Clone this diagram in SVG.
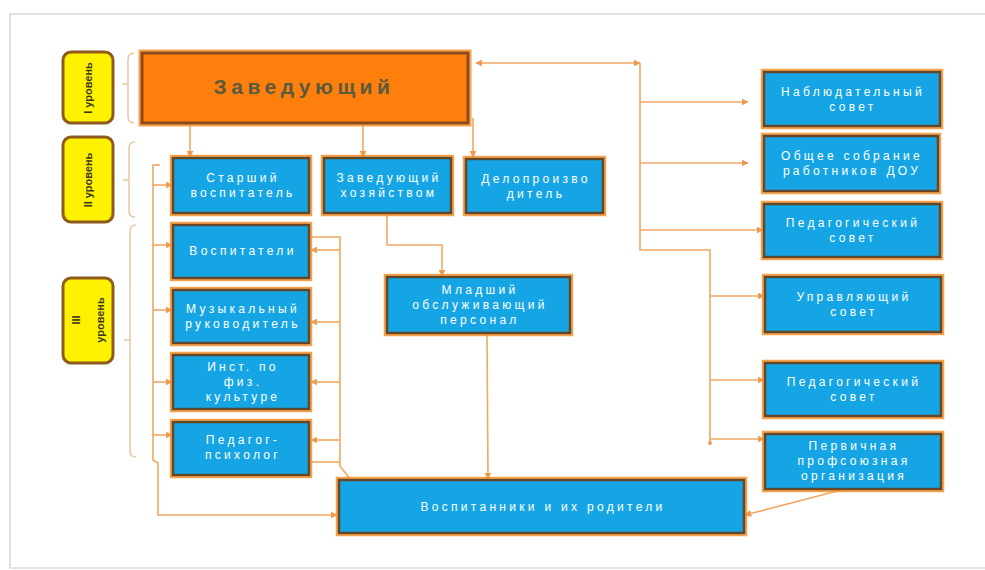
<svg xmlns="http://www.w3.org/2000/svg" width="985" height="570" viewBox="0 0 985 570">
<style>
.frame{fill:#ffffff;stroke:#d9d9d9;stroke-width:1.5}
.box{fill:#12A5E4;stroke:#64472A;stroke-width:2.5}
.head{fill:#FF7F0F;stroke:#8A4A1C;stroke-width:3}
.lvl{fill:#FFF200;stroke:#8E5A1E;stroke-width:3}
.brace{fill:none;stroke:#E6C9A2;stroke-width:1.5}
.con{fill:none;stroke:#F0A863;stroke-width:1.6}
.t{font-family:"Liberation Sans",Arial,sans-serif;font-size:12px;fill:#ffffff;letter-spacing:3.3px;text-anchor:middle;dominant-baseline:central}
.th{font-family:"Liberation Sans",Arial,sans-serif;font-size:21px;font-weight:bold;fill:#5A5A3C;letter-spacing:4.5px;text-anchor:middle;dominant-baseline:central}
.tl{font-family:"Liberation Sans",Arial,sans-serif;font-size:11px;font-weight:bold;fill:#3A3A1A;text-anchor:middle;dominant-baseline:central}
</style>
<defs>
<filter id="glow" x="-10%" y="-10%" width="120%" height="130%">
<feMorphology in="SourceAlpha" operator="dilate" radius="2" result="d"/>
<feFlood flood-color="#F5922F" flood-opacity="0.85"/>
<feComposite in2="d" operator="in" result="o"/>
<feMerge><feMergeNode in="o"/><feMergeNode in="SourceGraphic"/></feMerge>
</filter>
<marker id="arr" viewBox="0 0 10 10" refX="9" refY="5" markerWidth="7" markerHeight="7" markerUnits="userSpaceOnUse" orient="auto-start-reverse">
<path d="M0,0 L10,5 L0,10 z" fill="#EE9A4E"/>
</marker>
</defs>
<rect class="frame" x="10" y="14" width="990" height="554"/>

<g id="levels">
<g id="level1">
<rect class="lvl" x="63" y="52" width="50" height="71" rx="8"/>
<text class="tl" transform="translate(88,88) rotate(-90)">I уровень</text>
<path class="brace" d="M134,53 Q128,53 128,60 L128,84 L122,84 M128,84 L128,116 Q128,123 134,123"/>
</g>
<g id="level2">
<rect class="lvl" x="63" y="137" width="50" height="85" rx="8"/>
<text class="tl" transform="translate(88,180) rotate(-90)">II уровень</text>
<path class="brace" d="M135,142 Q129,142 129,148 L129,180 L123,180 M129,180 L129,211 Q129,217 135,217"/>
</g>
<g id="level3">
<rect class="lvl" x="63" y="278" width="50" height="85" rx="8"/>
<text class="tl" transform="translate(76,320) rotate(-90)">III</text>
<text class="tl" transform="translate(100,320) rotate(-90)">уровень</text>
<path class="brace" d="M136,225 Q130,225 130,231 L130,340 L124,340 M130,340 L130,451 Q130,457 136,457"/>
</g>
</g>

<g id="connectors">
<path class="con" d="M190,123 L190,157" marker-end="url(#arr)"/>
<path class="con" d="M363,123 L363,157" marker-end="url(#arr)"/>
<path class="con" d="M473,118 L473,157" marker-end="url(#arr)"/>
<path class="con" d="M476,63 L640,63" marker-start="url(#arr)" marker-end="url(#arr)"/>
<path class="con" d="M640,63 L640,250 L710,250 L710,443"/>
<path class="con" d="M640,102 L748,102" marker-end="url(#arr)"/>
<path class="con" d="M640,163 L748,163" marker-end="url(#arr)"/>
<path class="con" d="M640,230 L763,230" marker-end="url(#arr)"/>
<path class="con" d="M710,296 L764,296" marker-end="url(#arr)"/>
<path class="con" d="M710,380 L764,380" marker-end="url(#arr)"/>
<path class="con" d="M710,439 L764,439" marker-end="url(#arr)"/>
<circle cx="710" cy="443" r="2" fill="#EE9A4E"/>
<path class="con" d="M845,489 L745,515" marker-end="url(#arr)"/>
<path class="con" d="M387,213 L387,245 L442,245 L442,276" marker-end="url(#arr)"/>
<path class="con" d="M487,333 L488,479" marker-end="url(#arr)"/>
<path class="con" d="M160,165 L153,165 L153,460 L158,463 L158,515 L337,515" marker-end="url(#arr)"/>
<path class="con" d="M153,185 L172,185" marker-end="url(#arr)"/>
<path class="con" d="M153,245 L172,245" marker-end="url(#arr)"/>
<path class="con" d="M153,310 L172,310" marker-end="url(#arr)"/>
<path class="con" d="M153,382 L172,382" marker-end="url(#arr)"/>
<path class="con" d="M153,435 L172,435" marker-end="url(#arr)"/>
<path class="con" d="M310,237 L340,237 L340,466 L350,479"/>
<path class="con" d="M310,462 L340,462"/>
<path class="con" d="M340,250 L311,250" marker-end="url(#arr)"/>
<path class="con" d="M340,322 L311,322" marker-end="url(#arr)"/>
<path class="con" d="M340,382 L311,382" marker-end="url(#arr)"/>
<path class="con" d="M340,440 L311,440" marker-end="url(#arr)"/>
</g>

<g id="n-zaveduyushchiy">
<rect class="head" x="142" y="53" width="326" height="70" filter="url(#glow)"/>
<text class="th" x="304" y="86">Заведующий</text>
</g>
<g id="n-starshiy">
<rect class="box" x="173" y="158" width="136" height="55" filter="url(#glow)"/>
<text class="t" x="243" y="178">Старший</text>
<text class="t" x="243" y="193">воспитатель</text>
</g>
<g id="n-zavhoz">
<rect class="box" x="324" y="158" width="127" height="55" filter="url(#glow)"/>
<text class="t" x="389" y="178">Заведующий</text>
<text class="t" x="389" y="193">хозяйством</text>
</g>
<g id="n-deloproizvoditel">
<rect class="box" x="466" y="159" width="137" height="54" filter="url(#glow)"/>
<text class="t" x="536" y="179">Делопроизво</text>
<text class="t" x="536" y="194">дитель</text>
</g>
<g id="n-vospitateli">
<rect class="box" x="173" y="225" width="136" height="53" filter="url(#glow)"/>
<text class="t" x="243" y="251">Воспитатели</text>
</g>
<g id="n-muz">
<rect class="box" x="173" y="290" width="136" height="53" filter="url(#glow)"/>
<text class="t" x="243" y="309">Музыкальный</text>
<text class="t" x="243" y="324">руководитель</text>
</g>
<g id="n-fiz">
<rect class="box" x="173" y="355" width="136" height="54" filter="url(#glow)"/>
<text class="t" x="243" y="367">Инст. по</text>
<text class="t" x="243" y="382">физ.</text>
<text class="t" x="243" y="397">культуре</text>
</g>
<g id="n-psiholog">
<rect class="box" x="173" y="422" width="136" height="53" filter="url(#glow)"/>
<text class="t" x="243" y="440">Педагог-</text>
<text class="t" x="243" y="455">психолог</text>
</g>
<g id="n-mop">
<rect class="box" x="387" y="277" width="183" height="56" filter="url(#glow)"/>
<text class="t" x="480" y="290">Младший</text>
<text class="t" x="480" y="305">обслуживающий</text>
<text class="t" x="480" y="320">персонал</text>
</g>
<g id="n-vospitanniki">
<rect class="box" x="339" y="480" width="405" height="53" filter="url(#glow)"/>
<text class="t" x="543" y="507">Воспитанники и их родители</text>
</g>
<g id="n-nabl">
<rect class="box" x="764" y="72" width="176" height="54" filter="url(#glow)"/>
<text class="t" x="853" y="92">Наблюдательный</text>
<text class="t" x="853" y="107">совет</text>
</g>
<g id="n-obshchee">
<rect class="box" x="764" y="136" width="174" height="55" filter="url(#glow)"/>
<text class="t" x="852" y="156">Общее собрание</text>
<text class="t" x="852" y="171">работников ДОУ</text>
</g>
<g id="n-pedsovet1">
<rect class="box" x="764" y="204" width="176" height="53" filter="url(#glow)"/>
<text class="t" x="853" y="223">Педагогический</text>
<text class="t" x="853" y="238">совет</text>
</g>
<g id="n-upravl">
<rect class="box" x="765" y="277" width="176" height="55" filter="url(#glow)"/>
<text class="t" x="854" y="297">Управляющий</text>
<text class="t" x="854" y="312">совет</text>
</g>
<g id="n-pedsovet2">
<rect class="box" x="765" y="363" width="176" height="53" filter="url(#glow)"/>
<text class="t" x="854" y="382">Педагогический</text>
<text class="t" x="854" y="397">совет</text>
</g>
<g id="n-profsoyuz">
<rect class="box" x="765" y="434" width="176" height="55" filter="url(#glow)"/>
<text class="t" x="854" y="446">Первичная</text>
<text class="t" x="854" y="461">профсоюзная</text>
<text class="t" x="854" y="476">организация</text>
</g>
</svg>
